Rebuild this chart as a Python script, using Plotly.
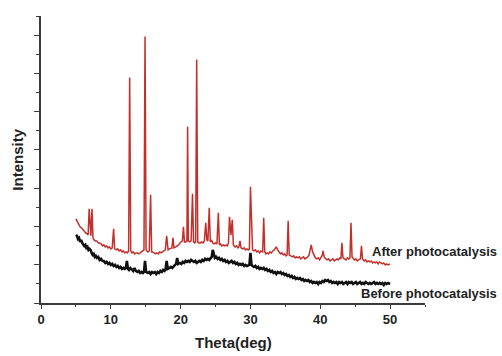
import plotly.graph_objects as go

# XRD patterns (2-theta in degrees, intensity in arbitrary units)
after_theta = [
    5.0, 5.2, 5.4, 5.6, 5.8, 6.0, 6.2, 6.4, 6.6, 6.75, 6.9, 7.05, 7.15, 7.3, 7.45, 7.6, 7.8, 8.0,
    8.2, 8.4, 8.6, 8.8, 9.0, 9.2, 9.4, 9.6, 9.8, 10.0, 10.2, 10.4, 10.55, 10.8, 11.0, 11.2, 11.4,
    11.6, 11.8, 12.0, 12.2, 12.4, 12.55, 12.7, 12.85, 13.0, 13.2, 13.4, 13.6, 13.8, 14.0, 14.2,
    14.4, 14.6, 14.75, 14.9, 15.05, 15.3, 15.5, 15.7, 15.85, 16.0, 16.2, 16.4, 16.6, 16.8, 17.0,
    17.2, 17.4, 17.6, 17.8, 18.0, 18.2, 18.4, 18.6, 18.75, 18.9, 19.05, 19.3, 19.5, 19.7, 19.9,
    20.1, 20.25, 20.4, 20.55, 20.75, 20.9, 21.0, 21.1, 21.3, 21.5, 21.7, 21.85, 22.0, 22.15, 22.3,
    22.45, 22.6, 22.8, 23.0, 23.2, 23.4, 23.6, 23.75, 23.9, 24.1, 24.25, 24.4, 24.6, 24.8, 25.0,
    25.2, 25.4, 25.55, 25.7, 25.9, 26.1, 26.3, 26.5, 26.7, 26.85, 27.0, 27.2, 27.4, 27.55, 27.8,
    28.0, 28.2, 28.35, 28.5, 28.65, 28.9, 29.1, 29.3, 29.5, 29.7, 29.85, 30.0, 30.15, 30.3, 30.5,
    30.7, 30.9, 31.1, 31.3, 31.5, 31.75, 31.9, 32.05, 32.2, 32.4, 32.6, 32.8, 33.0, 33.2, 33.4,
    33.6, 33.7, 33.9, 34.1, 34.3, 34.5, 34.7, 34.9, 35.1, 35.25, 35.4, 35.55, 35.8, 36.0, 36.2,
    36.4, 36.6, 36.8, 37.0, 37.2, 37.4, 37.6, 37.8, 38.0, 38.2, 38.4, 38.5, 38.7, 38.9, 39.1,
    39.3, 39.5, 39.7, 39.9, 40.1, 40.3, 40.4, 40.55, 40.8, 41.0, 41.2, 41.4, 41.6, 41.8, 42.0,
    42.2, 42.4, 42.6, 42.8, 42.95, 43.1, 43.25, 43.5, 43.7, 43.9, 44.1, 44.25, 44.4, 44.55, 44.75,
    44.9, 45.1, 45.3, 45.5, 45.75, 45.9, 46.05, 46.3, 46.5, 46.7, 46.9, 47.1, 47.3, 47.5, 47.7,
    47.9, 48.1, 48.3, 48.5, 48.7, 48.9, 49.1, 49.3, 49.5, 49.7, 50.0,
]
after_int = [
    84, 81, 79, 76, 75, 73, 71, 70, 69, 68, 94, 68, 67, 94, 65, 63, 62, 62,
    60, 60, 59, 57, 58, 56, 57, 55, 56, 54, 55, 74, 54, 53, 54, 52, 53,
    51, 52, 50, 51, 50, 52, 225, 52, 50, 51, 49, 50, 50, 49, 50,
    51, 52, 53, 266, 53, 51, 52, 108, 51, 51, 50, 49, 50, 49, 51,
    50, 51, 52, 53, 67, 53, 54, 55, 55, 65, 55, 56, 57, 58, 60,
    61, 62, 76, 61, 61, 62, 176, 62, 61, 62, 109, 61, 60, 61, 243,
    61, 60, 60, 61, 60, 62, 80, 63, 62, 95, 61, 63, 60, 59, 60,
    59, 90, 58, 59, 57, 58, 57, 58, 57, 60, 86, 68, 83, 58, 56,
    57, 55, 56, 62, 55, 54, 55, 53, 54, 53, 54, 116, 70, 53, 52,
    53, 51, 52, 50, 52, 51, 85, 51, 49, 50, 49, 51, 50, 52, 53,
    55, 56, 53, 51, 49, 50, 48, 49, 47, 48, 82, 48, 47, 46, 47,
    45, 46, 45, 46, 44, 45, 46, 44, 45, 46, 48, 52, 58, 51, 47,
    45, 44, 45, 43, 45, 48, 52, 46, 44, 43, 44, 42, 43, 44, 42,
    43, 44, 43, 45, 44, 60, 45, 44, 43, 45, 44, 45, 80, 46, 44,
    43, 44, 42, 43, 44, 57, 44, 42, 43, 41, 42, 41, 42, 40, 41,
    40, 41, 39, 41, 40, 39, 40, 38, 39, 38, 39,
]

before_theta = [
    5.0, 5.15, 5.3, 5.45, 5.6, 5.75, 5.9, 6.05, 6.2, 6.35, 6.5, 6.65, 6.8, 6.95, 7.1, 7.25, 7.4,
    7.55, 7.7, 7.85, 8.0, 8.2, 8.4, 8.6, 8.8, 9.0, 9.2, 9.4, 9.6, 9.8, 10.0, 10.2, 10.4, 10.6,
    10.8, 11.0, 11.2, 11.4, 11.6, 11.8, 12.0, 12.15, 12.3, 12.45, 12.6, 12.8, 13.0, 13.2, 13.4,
    13.6, 13.8, 14.0, 14.2, 14.4, 14.6, 14.75, 14.9, 15.05, 15.3, 15.5, 15.7, 15.9, 16.1, 16.3,
    16.5, 16.7, 16.9, 17.1, 17.3, 17.5, 17.7, 17.85, 18.0, 18.15, 18.4, 18.6, 18.8, 19.0, 19.2,
    19.35, 19.5, 19.65, 19.9, 20.1, 20.3, 20.5, 20.7, 20.9, 21.1, 21.3, 21.5, 21.7, 21.9, 22.1,
    22.3, 22.5, 22.7, 22.9, 23.1, 23.3, 23.5, 23.7, 23.9, 24.1, 24.3, 24.45, 24.6, 24.75, 24.9,
    25.1, 25.3, 25.5, 25.7, 25.9, 26.1, 26.3, 26.5, 26.7, 26.9, 27.1, 27.3, 27.5, 27.7, 27.9,
    28.1, 28.3, 28.5, 28.7, 28.9, 29.1, 29.3, 29.5, 29.7, 29.85, 30.0, 30.15, 30.3, 30.5, 30.7,
    30.9, 31.1, 31.3, 31.5, 31.7, 31.9, 32.1, 32.3, 32.5, 32.7, 32.9, 33.1, 33.3, 33.5, 33.7,
    33.9, 34.1, 34.3, 34.5, 34.7, 34.9, 35.1, 35.3, 35.5, 35.7, 35.9, 36.1, 36.3, 36.5, 36.7,
    36.9, 37.1, 37.3, 37.5, 37.7, 37.9, 38.1, 38.3, 38.5, 38.7, 38.9, 39.1, 39.3, 39.5, 39.7,
    39.9, 40.1, 40.3, 40.5, 40.7, 40.9, 41.1, 41.3, 41.5, 41.7, 41.9, 42.1, 42.3, 42.5, 42.7,
    42.9, 43.1, 43.3, 43.5, 43.7, 43.9, 44.1, 44.3, 44.5, 44.7, 44.9, 45.1, 45.3, 45.5, 45.7,
    45.9, 46.1, 46.3, 46.5, 46.7, 46.9, 47.1, 47.3, 47.5, 47.7, 47.9, 48.1, 48.3, 48.5, 48.7,
    48.9, 49.1, 49.3, 49.5, 49.7, 50.0,
]
before_int = [
    68, 67, 64, 65, 61, 63, 60, 58, 57, 58, 55, 56, 53, 54, 53, 50, 48,
    49, 46, 47, 45, 46, 43, 44, 42, 42, 40, 41, 39, 40, 38, 39, 37, 38,
    36, 37, 35, 36, 34, 35, 34, 35, 42, 34, 33, 35, 33, 32, 35,
    32, 31, 32, 30, 31, 30, 31, 42, 31, 30, 31, 29, 31, 30, 31,
    29, 31, 30, 32, 31, 33, 32, 34, 42, 34, 35, 36, 35, 37, 38,
    39, 45, 39, 40, 39, 41, 40, 42, 41, 42, 41, 43, 42, 41, 42,
    40, 41, 42, 41, 43, 42, 44, 43, 44, 43, 45, 46, 53, 47, 45,
    46, 44, 45, 43, 44, 42, 43, 41, 42, 40, 41, 42, 40, 41, 39,
    40, 38, 39, 38, 39, 37, 38, 37, 38, 38, 50, 38, 37, 36, 37,
    35, 36, 34, 35, 34, 35, 33, 34, 32, 33, 31, 32, 30, 31, 29,
    31, 30, 31, 29, 30, 28, 29, 27, 28, 26, 27, 25, 26, 24, 25,
    24, 25, 23, 24, 22, 23, 22, 23, 21, 22, 20, 21, 20, 21, 19,
    21, 20, 22, 21, 23, 22, 23, 21, 22, 20, 21, 20, 21, 19, 21,
    20, 21, 19, 20, 21, 19, 21, 20, 21, 19, 20, 21, 19, 20, 21,
    19, 20, 19, 21, 20, 19, 20, 19, 20, 21, 19, 20, 19, 20, 19,
    20, 18, 20, 19, 20, 19,
]

x_ticks = [0, 10, 20, 30, 40, 50]

AXIS_COLOR = "#3a3a3a"
TEXT_COLOR = "#222222"
FONT = "Liberation Sans, Arial, sans-serif"

fig = go.Figure()
fig.add_trace(go.Scatter(
    x=before_theta, y=before_int, mode="lines",
    line=dict(color="#111111", width=2.6),
    name="Before photocatalysis", showlegend=False,
))
fig.add_trace(go.Scatter(
    x=after_theta, y=after_int, mode="lines",
    line=dict(color="#c3302b", width=1.5),
    name="After photocatalysis", showlegend=False,
))

fig.update_layout(
    width=502, height=356,
    margin=dict(l=41, r=77, t=16, b=53),
    paper_bgcolor="white", plot_bgcolor="white",
    font=dict(family=FONT, color=TEXT_COLOR),
    xaxis=dict(
        range=[0, 55], tickvals=x_ticks, ticktext=[str(v) for v in x_ticks],
        showgrid=False, zeroline=False,
        showline=True, linecolor=AXIS_COLOR, linewidth=1.5,
        ticks="outside", ticklen=4, tickwidth=1.3, tickcolor=AXIS_COLOR,
        tickfont=dict(size=13, family=FONT, color=TEXT_COLOR, weight="bold"),
        minor=dict(dtick=5, tick0=0, ticks="outside", ticklen=2, tickwidth=1.2,
                   tickcolor=AXIS_COLOR, showgrid=False),
    ),
    yaxis=dict(
        range=[0, 286.5], tick0=0, dtick=38.2,
        showticklabels=False, showgrid=False, zeroline=False,
        showline=True, linecolor=AXIS_COLOR, linewidth=1.5,
        ticks="outside", ticklen=5, tickwidth=1.3, tickcolor=AXIS_COLOR,
        minor=dict(dtick=19.1, tick0=0, ticks="outside", ticklen=3, tickwidth=1.2,
                   tickcolor=AXIS_COLOR, showgrid=False),
    ),
    annotations=[
        dict(text="<b>Theta(deg)</b>", xref="paper", yref="paper",
             x=0.5, y=-0.139, xanchor="center", yanchor="middle",
             showarrow=False, font=dict(size=15, family=FONT, color=TEXT_COLOR)),
        dict(text="<b>Intensity</b>", xref="paper", yref="paper",
             x=-0.062, y=0.5, xanchor="center", yanchor="middle", textangle=-90,
             showarrow=False, font=dict(size=15, family=FONT, color=TEXT_COLOR)),
        dict(text="<b>After photocatalysis</b>", xref="x", yref="y",
             x=47.1, y=51, xanchor="left", yanchor="middle",
             showarrow=False, font=dict(size=13, family=FONT, color=TEXT_COLOR)),
        dict(text="<b>Before photocatalysis</b>", xref="x", yref="y",
             x=45.6, y=9, xanchor="left", yanchor="middle",
             showarrow=False, font=dict(size=13, family=FONT, color=TEXT_COLOR)),
    ],
)

fig.write_html("out.html")
